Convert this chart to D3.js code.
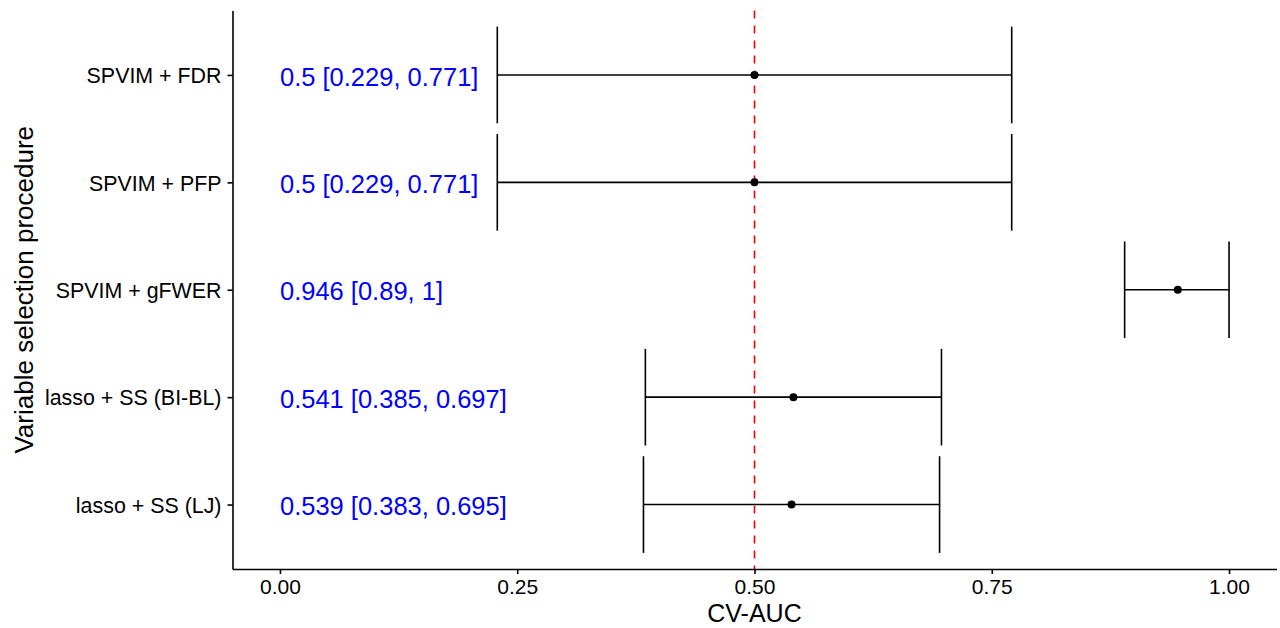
<!DOCTYPE html>
<html>
<head>
<meta charset="utf-8">
<script src="https://cdn.jsdelivr.net/npm/d3@7"></script>
<style>
  body { margin: 0; background: #fff; }
  svg { display: block; font-family: "Liberation Sans", Arial, Helvetica, sans-serif; }
</style>
</head>
<body>
<svg id="chart" width="1280" height="628"></svg>
<script>
// ---- data ----
const categories = ["SPVIM + FDR", "SPVIM + PFP", "SPVIM + gFWER", "lasso + SS (BI-BL)", "lasso + SS (LJ)"];
const estimates  = [0.5, 0.5, 0.946, 0.541, 0.539];
const lowerCI    = [0.229, 0.229, 0.89, 0.385, 0.383];
const upperCI    = [0.771, 0.771, 1, 0.697, 0.695];
const labels     = ["0.5 [0.229, 0.771]", "0.5 [0.229, 0.771]", "0.946 [0.89, 1]", "0.541 [0.385, 0.697]", "0.539 [0.383, 0.695]"];
const xTicks     = [0, 0.25, 0.5, 0.75, 1];
const refLine    = 0.5;
const xTitle = "CV-AUC";
const yTitle = "Variable selection procedure";

const rows = categories.map((c, i) => ({cat: c, est: estimates[i], lo: lowerCI[i], hi: upperCI[i], lab: labels[i]}));

// ---- layout ----
const panel = {left: 232.5, right: 1276.5, top: 10.5, bottom: 569};
const svg = d3.select("#chart");

const x = d3.scaleLinear().domain([-0.05, 1.05]).range([panel.left, panel.right]);
const y = d3.scalePoint().domain(categories).range([panel.top, panel.bottom]).padding(0.6);
const step = y.step();
const capH = step * 0.45;

// errorbars
const eb = svg.append("g").attr("stroke", "#000").attr("stroke-width", 1.6).attr("fill", "none");
rows.forEach(d => {
  const cy = y(d.cat);
  eb.append("line").attr("x1", x(d.lo)).attr("x2", x(d.hi)).attr("y1", cy).attr("y2", cy);
  eb.append("line").attr("x1", x(d.lo)).attr("x2", x(d.lo)).attr("y1", cy - capH).attr("y2", cy + capH);
  eb.append("line").attr("x1", x(d.hi)).attr("x2", x(d.hi)).attr("y1", cy - capH).attr("y2", cy + capH);
});

// reference line
svg.append("line")
  .attr("x1", x(refLine)).attr("x2", x(refLine))
  .attr("y1", panel.top).attr("y2", panel.bottom)
  .attr("stroke", "#FF0000").attr("stroke-width", 1.6)
  .attr("stroke-dasharray", "8,7");

// points
svg.append("g").selectAll("circle").data(rows).join("circle")
  .attr("cx", d => x(d.est)).attr("cy", d => y(d.cat)).attr("r", 4).attr("fill", "#000");

// text labels
svg.append("g").selectAll("text").data(rows).join("text")
  .attr("x", x(0)).attr("y", d => y(d.cat)).attr("dy", "0.42em")
  .attr("fill", "#0000FF").attr("font-size", 25.5)
  .text(d => d.lab);

// axes
const xAxis = svg.append("g").attr("transform", `translate(0,${panel.bottom})`)
  .call(d3.axisBottom(x).tickValues(xTicks).tickFormat(d3.format(".2f")).tickSize(5).tickSizeOuter(0).tickPadding(5));
const yAxis = svg.append("g").attr("transform", `translate(${panel.left},0)`)
  .call(d3.axisLeft(y).tickSize(5).tickSizeOuter(0).tickPadding(6));

[xAxis, yAxis].forEach(a => {
  a.select(".domain").attr("stroke", "#000").attr("stroke-width", 1.6);
  a.selectAll(".tick line").attr("stroke", "#000").attr("stroke-width", 1.6);
  a.selectAll(".tick text").attr("fill", "#000").attr("font-size", 21)
    .attr("font-family", "'Liberation Sans', Arial, sans-serif");
});
yAxis.selectAll(".tick text").attr("font-size", 21.4).attr("dy", "0.36em");

// axis titles
svg.append("text").attr("x", (panel.left + panel.right) / 2).attr("y", 622)
  .attr("text-anchor", "middle").attr("font-size", 25).attr("fill", "#000").text(xTitle);
svg.append("text").attr("transform", `translate(33,${(panel.top + panel.bottom) / 2}) rotate(-90)`)
  .attr("text-anchor", "middle").attr("font-size", 26).attr("fill", "#000").text(yTitle);
</script>
</body>
</html>
